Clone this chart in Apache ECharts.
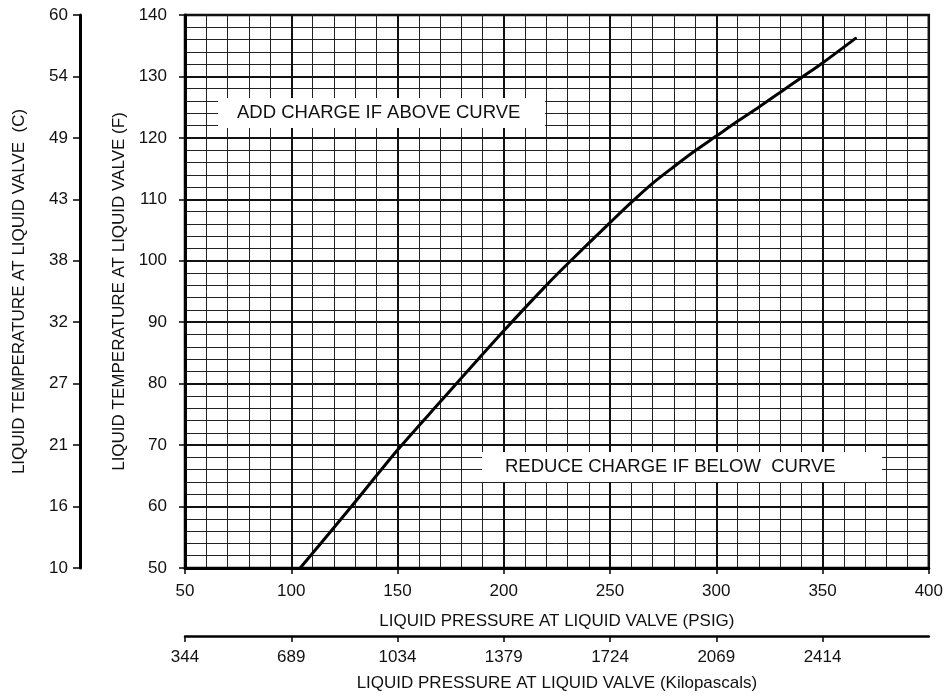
<!DOCTYPE html>
<html>
<head>
<meta charset="utf-8">
<script src="https://cdn.jsdelivr.net/npm/echarts@6/dist/echarts.min.js"></script>
<style>
  html, body { margin: 0; padding: 0; background: #fff; }
  #chart { width: 946px; height: 698px; }
</style>
</head>
<body>
<div id="chart"></div>
<script>
// Charging curve: liquid pressure (PSIG) vs liquid temperature (F)
const pressurePsig = [104.2, 128.3, 150, 170, 200, 220, 231.5, 250, 260, 270, 280, 290, 300, 310, 320, 330, 340, 350, 365.5];
const temperatureF = [50, 60, 69.2, 77, 88.6, 96, 100, 106.2, 109.5, 112.6, 115.3, 117.9, 120.3, 122.7, 125.0, 127.4, 129.8, 132.2, 136.2];

// Tick values and their secondary-scale labels
const fTicks = [50, 60, 70, 80, 90, 100, 110, 120, 130, 140];
const cLabels = ['10', '16', '21', '27', '32', '38', '43', '49', '54', '60'];
const kpaTicks = [50, 100, 150, 200, 250, 300, 350];
const kpaLabels = ['344', '689', '1034', '1379', '1724', '2069', '2414'];

const FONT = '"Liberation Sans", Arial, Helvetica, sans-serif';
const chart = echarts.init(document.getElementById('chart'), null, { renderer: 'canvas' });

const labelStyle = { color: '#111', fontSize: 17, fontFamily: FONT };
const nameStyle = { color: '#111', fontSize: 17, fontFamily: FONT };

chart.setOption({
  animation: false,
  backgroundColor: '#fff',
  grid: {
    left: 185, right: 17, top: 15, bottom: 130,
    show: true, borderColor: '#000', borderWidth: 2.5, backgroundColor: 'transparent'
  },
  xAxis: [
    {
      type: 'value', min: 50, max: 400, interval: 50,
      position: 'bottom',
      name: 'LIQUID PRESSURE AT LIQUID VALVE (PSIG)',
      nameLocation: 'middle', nameGap: 45, nameTextStyle: nameStyle,
      axisLine: { show: true, onZero: false, lineStyle: { color: '#000', width: 3 } },
      axisTick: { show: true, length: 6, lineStyle: { color: '#000', width: 1.5 } },
      axisLabel: Object.assign({ margin: 15 }, labelStyle),
      splitLine: { show: true, lineStyle: { color: '#111', width: 2 } },
      minorTick: { show: false, splitNumber: 5 },
      minorSplitLine: { show: true, lineStyle: { color: '#222', width: 1 } }
    },
    {
      type: 'value', min: 50, max: 400, interval: 50,
      position: 'bottom', offset: 68,
      name: 'LIQUID PRESSURE AT LIQUID VALVE (Kilopascals)',
      nameLocation: 'middle', nameGap: 39, nameTextStyle: nameStyle,
      axisLine: { show: true, onZero: false, lineStyle: { color: '#000', width: 2.5 } },
      axisTick: { show: true, length: 6, customValues: kpaTicks, lineStyle: { color: '#000', width: 1.5 } },
      axisLabel: Object.assign({
        margin: 13,
        customValues: kpaTicks,
        formatter: (v) => kpaLabels[kpaTicks.indexOf(v)] ?? ''
      }, labelStyle),
      splitLine: { show: false }
    }
  ],
  yAxis: [
    {
      type: 'value', min: 50, max: 140, interval: 10,
      position: 'left',
      name: 'LIQUID TEMPERATURE AT LIQUID VALVE (F)',
      nameLocation: 'middle', nameGap: 57, nameRotate: 90, nameTextStyle: nameStyle,
      axisLine: { show: true, onZero: false, lineStyle: { color: '#000', width: 3 } },
      axisTick: { show: true, length: 6, lineStyle: { color: '#000', width: 1.5 } },
      axisLabel: Object.assign({ margin: 18 }, labelStyle),
      splitLine: { show: true, lineStyle: { color: '#111', width: 2 } },
      minorTick: { show: false, splitNumber: 5 },
      minorSplitLine: { show: true, lineStyle: { color: '#222', width: 1 } }
    },
    {
      type: 'value', min: 50, max: 140, interval: 10,
      position: 'left', offset: 105,
      name: 'LIQUID TEMPERATURE AT LIQUID VALVE  (C)',
      nameLocation: 'middle', nameGap: 52, nameRotate: 90, nameTextStyle: nameStyle,
      axisLine: { show: true, onZero: false, lineStyle: { color: '#000', width: 3 } },
      axisTick: { show: true, length: 7, lineStyle: { color: '#000', width: 1.5 } },
      axisLabel: Object.assign({
        margin: 12,
        formatter: (v) => cLabels[fTicks.indexOf(v)] ?? ''
      }, labelStyle),
      splitLine: { show: false }
    }
  ],
  series: [
    {
      type: 'line',
      xAxisIndex: 0, yAxisIndex: 0,
      data: pressurePsig.map((p, i) => [p, temperatureF[i]]),
      smooth: 0.3,
      showSymbol: false,
      lineStyle: { color: '#000', width: 3, cap: 'round' },
      z: 5
    }
  ],
  graphic: [
    {
      type: 'group', left: 218, top: 98,
      children: [
        { type: 'rect', z: 100, shape: { x: 0, y: 0, width: 327, height: 30 }, style: { fill: '#fff' } },
        { type: 'text', z: 101, x: 19, y: 15, style: { text: 'ADD CHARGE IF ABOVE CURVE', fill: '#111', font: '18.5px ' + FONT, verticalAlign: 'middle' } }
      ]
    },
    {
      type: 'group', left: 482, top: 452,
      children: [
        { type: 'rect', z: 100, shape: { x: 0, y: 0, width: 400, height: 30 }, style: { fill: '#fff' } },
        { type: 'text', z: 101, x: 23, y: 15, style: { text: 'REDUCE CHARGE IF BELOW  CURVE', fill: '#111', font: '18.5px ' + FONT, verticalAlign: 'middle' } }
      ]
    }
  ]
});
</script>
</body>
</html>
